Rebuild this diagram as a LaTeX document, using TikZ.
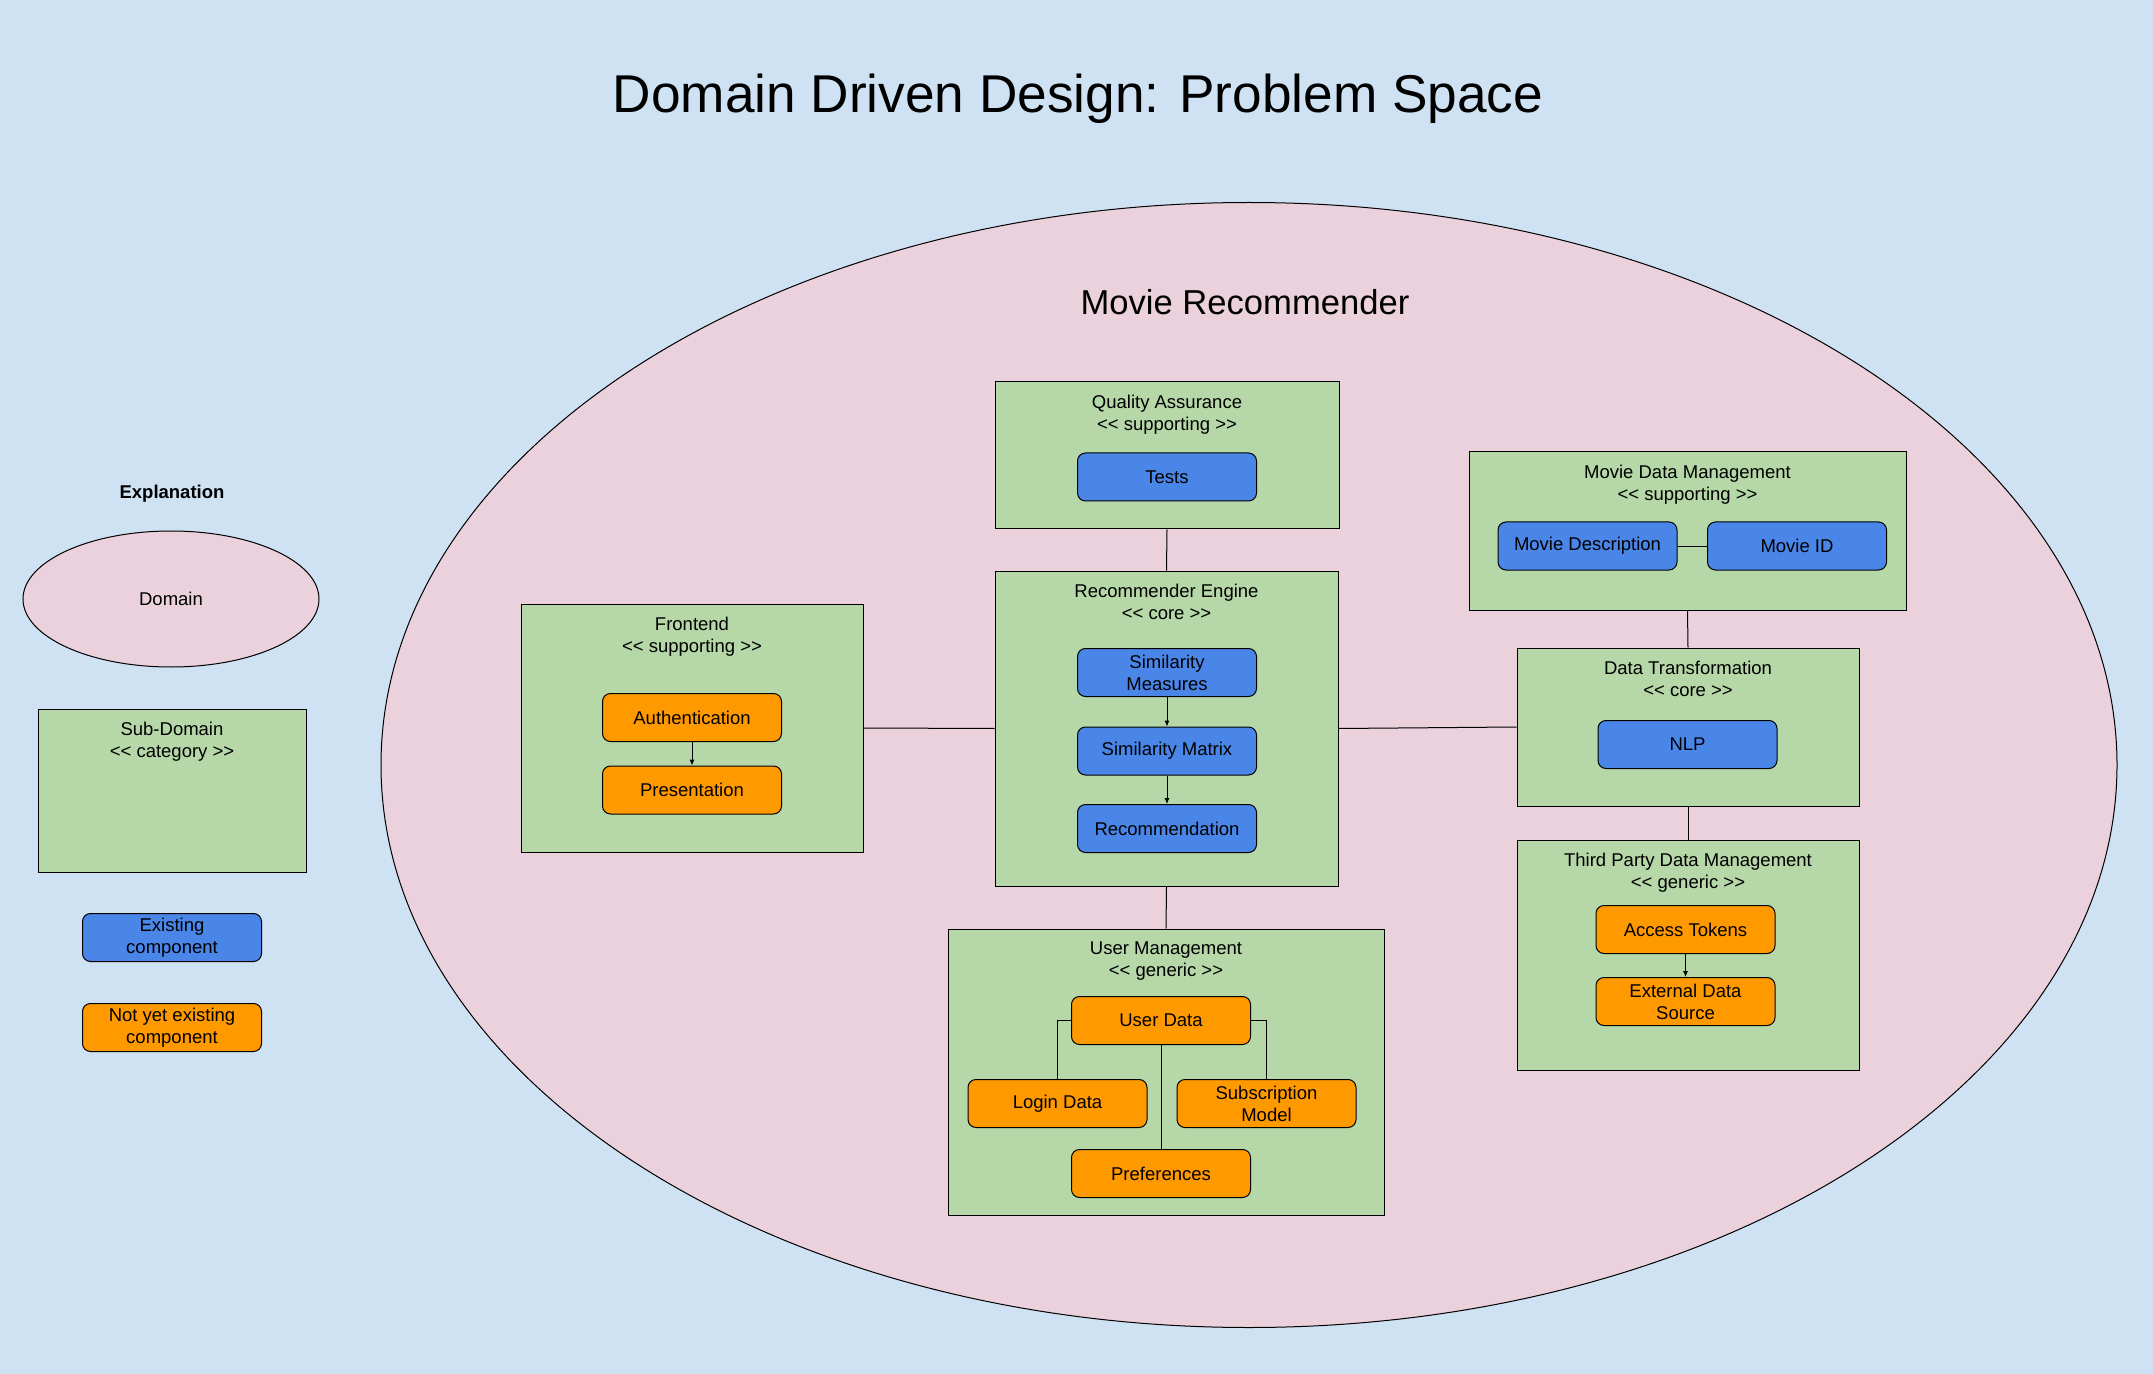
\documentclass[tikz,border=0pt]{standalone}
\usepackage{fontspec}
\setmainfont{Liberation Sans}
\usetikzlibrary{shapes.geometric,arrows.meta}

\definecolor{bgblue}{HTML}{CFE2F3}
\definecolor{domainpink}{HTML}{EAD1DC}
\definecolor{subgreen}{HTML}{B6D7A8}
\definecolor{compblue}{HTML}{4A86E8}
\definecolor{comporange}{HTML}{FF9900}

\newcommand{\stereo}[1]{<{}< #1 >{}>}

\begin{document}
\begin{tikzpicture}[x=0.5pt, y=-0.5pt,
    domainshape/.style = {ellipse, draw, fill=domainpink, line width=0.5pt},
    subdomain/.style   = {rectangle, draw, fill=subgreen, line width=0.5pt},
    subtitle/.style    = {anchor=north, inner sep=0pt, yshift=-6.5pt, align=center},
    comp/.style        = {rectangle, rounded corners=4pt, draw, line width=0.5pt,
                          minimum width=89.5pt, minimum height=24pt, inner sep=1pt, align=center},
    existing/.style    = {comp, fill=compblue},
    planned/.style     = {comp, fill=comporange},
    link/.style        = {line width=0.5pt},
    flow/.style        = {line width=0.5pt, -{Latex[length=3pt,width=2.6pt]}}
  ]
  \tikzset{every node/.style={font=\fontsize{9.25}{11}\selectfont}}
  \fill [bgblue] (0,0) rectangle (2153,1374);
  \useasboundingbox (0,0) rectangle (2153,1374);

  \node [font=\fontsize{26.6}{32}\selectfont] (title) at (1078,98.5) {Domain Driven Design: Problem Space};

  % explanation
  \node [font=\fontsize{9.25}{11}\selectfont\bfseries] (expl) at (172,494) {Explanation};
  \node [domainshape, minimum width=148pt, minimum height=68pt] (legdomain) at (171,599) {Domain};
  \node [subdomain, minimum width=134pt, minimum height=81.5pt] (legsub) at (172,790.5) {};
  \node [subtitle] at (legsub.north) {Sub-Domain\\\stereo{category}};
  \node [existing] (legexist) at (172,937.5) {Existing\\component};
  \node [planned] (legplan) at (172,1027.5) {Not yet existing\\component};

  % domain
  \node [domainshape, minimum width=868pt, minimum height=562.5pt] (domain) at (1249,765) {};
  \node [font=\fontsize{17.3}{21}\selectfont] (domaintitle) at (1245,302) {Movie Recommender};

  % sub-domains
  \node [subdomain, minimum width=172pt, minimum height=73.5pt] (qa) at (1167,455.5) {};
  \node [subtitle] at (qa.north) {Quality Assurance\\\stereo{supporting}};
  \node [subdomain, minimum width=171.5pt, minimum height=157.5pt] (rec) at (1166.5,728.5) {};
  \node [subtitle] at (rec.north) {Recommender Engine\\\stereo{core}};
  \node [subdomain, minimum width=171pt, minimum height=124pt] (front) at (692,728) {};
  \node [subtitle] at (front.north) {Frontend\\\stereo{supporting}};
  \node [subdomain, minimum width=218pt, minimum height=143pt] (user) at (1166,1072) {};
  \node [subtitle] at (user.north) {User Management\\\stereo{generic}};
  \node [subdomain, minimum width=218.5pt, minimum height=79pt] (mdm) at (1687.5,531) {};
  \node [subtitle] at (mdm.north) {Movie Data Management\\\stereo{supporting}};
  \node [subdomain, minimum width=171pt, minimum height=79pt] (dt) at (1688,727) {};
  \node [subtitle] at (dt.north) {Data Transformation\\\stereo{core}};
  \node [subdomain, minimum width=171pt, minimum height=115pt] (tp) at (1688,955) {};
  \node [subtitle] at (tp.north) {Third Party Data Management\\\stereo{generic}};

  % components
  \node [existing] (tests)    at (1167,477)    {Tests};
  \node [existing] (simmeas)  at (1167,672.5)  {Similarity\\Measures};
  \node [existing] (simmat)   at (1167,751)    {Similarity Matrix};
  \node [existing] (recomm)   at (1167,828.5)  {Recommendation};
  \node [planned]  (auth)     at (692,717.5)   {Authentication};
  \node [planned]  (pres)     at (692,790)     {Presentation};
  \node [planned]  (userdata) at (1161,1020.5) {User Data};
  \node [planned]  (login)    at (1057.5,1103.5) {Login Data};
  \node [planned]  (subs)     at (1266.5,1103.5) {Subscription\\Model};
  \node [planned]  (prefs)    at (1161,1173.5) {Preferences};
  \node [existing] (moviedesc) at (1587.5,546) {Movie Description};
  \node [existing] (movieid)  at (1797,546)    {Movie ID};
  \node [existing] (nlp)      at (1687.5,744.5) {NLP};
  \node [planned]  (access)   at (1685.5,929.5) {Access Tokens};
  \node [planned]  (external) at (1685.5,1001.5) {External Data\\Source};

  % connections
  \foreach \a/\b in {qa.south/rec.north, rec.south/user.north, front.east/rec.west,
                     rec.east/dt.west, mdm.south/dt.north, dt.south/tp.north,
                     moviedesc.east/movieid.west, userdata.south/prefs.north} {
    \path (\a) edge [link] (\b);
  }
  \draw [link] (userdata.west) -| (login.north);
  \draw [link] (userdata.east) -| (subs.north);
  \foreach \a/\b in {simmeas/simmat, simmat/recomm, auth/pres, access/external} {
    \path (\a) edge [flow] (\b);
  }
\end{tikzpicture}
\end{document}
